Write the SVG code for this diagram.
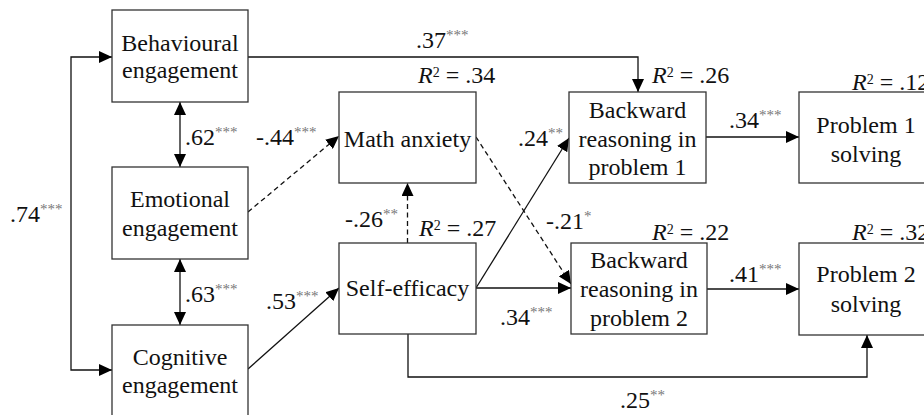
<svg xmlns="http://www.w3.org/2000/svg" width="924" height="415" viewBox="0 0 924 415">
<defs>
<marker id="ah" markerUnits="userSpaceOnUse" markerWidth="13" markerHeight="12" refX="13" refY="6" orient="auto-start-reverse" viewBox="0 0 13 12">
<path d="M0,0 L13,6 L0,12 z" fill="#000"/>
</marker>
<style>
.box{fill:#fff;stroke:#333;stroke-width:1.3}
text{font-family:'Liberation Serif','DejaVu Serif',serif;font-size:24px;fill:#111}
.c{text-anchor:middle}
.sig{font-size:15px;fill:#777}
.sup{font-size:14px}
.ln{fill:none;stroke:#111;stroke-width:1.3}
.dash{stroke-dasharray:5,3.5}
</style>
</defs>
<rect width="924" height="415" fill="#fff"/>

<g id="connectors">
<path class="ln" d="M112,57 H71 V370 H112" marker-start="url(#ah)" marker-end="url(#ah)"/>
<path class="ln" d="M180,102 V167" marker-start="url(#ah)" marker-end="url(#ah)"/>
<path class="ln" d="M180,259 V325" marker-start="url(#ah)" marker-end="url(#ah)"/>
<path class="ln" d="M248,57 H638 V92" marker-end="url(#ah)"/>
<path class="ln dash" d="M248,212 L339,136" marker-end="url(#ah)"/>
<path class="ln" d="M248,369 L339,288" marker-end="url(#ah)"/>
<path class="ln dash" d="M407.5,243 V183" marker-end="url(#ah)"/>
<path class="ln" d="M476,288 L569,138" marker-end="url(#ah)"/>
<path class="ln dash" d="M476,137 L571,284" marker-end="url(#ah)"/>
<path class="ln" d="M476,288 H571" marker-end="url(#ah)"/>
<path class="ln" d="M706,137 H799" marker-end="url(#ah)"/>
<path class="ln" d="M707,289 H799" marker-end="url(#ah)"/>
<path class="ln" d="M408,334 V377 H867 V335" marker-end="url(#ah)"/>
</g>

<g id="behavioural">
<rect class="box" x="112" y="10" width="136" height="92"/>
<text class="c" x="180" y="51">Behavioural</text>
<text class="c" x="180" y="78">engagement</text>
</g>
<g id="emotional">
<rect class="box" x="112" y="167" width="136" height="92"/>
<text class="c" x="180" y="207">Emotional</text>
<text class="c" x="180" y="236">engagement</text>
</g>
<g id="cognitive">
<rect class="box" x="112" y="325" width="136" height="92"/>
<text class="c" x="180" y="365">Cognitive</text>
<text class="c" x="180" y="393">engagement</text>
</g>
<g id="math-anxiety">
<rect class="box" x="339" y="92" width="137" height="91"/>
<text class="c" x="407.5" y="147">Math anxiety</text>
</g>
<g id="self-efficacy">
<rect class="box" x="339" y="243" width="137" height="91"/>
<text class="c" x="407.5" y="296">Self-efficacy</text>
</g>
<g id="backward1">
<rect class="box" x="569" y="92" width="137" height="91"/>
<text class="c" x="637.5" y="118">Backward</text>
<text class="c" x="637.5" y="147">reasoning in</text>
<text class="c" x="637.5" y="175">problem 1</text>
</g>
<g id="backward2">
<rect class="box" x="571" y="243" width="136" height="91"/>
<text class="c" x="639" y="268">Backward</text>
<text class="c" x="639" y="297">reasoning in</text>
<text class="c" x="639" y="326">problem 2</text>
</g>
<g id="problem1">
<rect class="box" x="799" y="92" width="134" height="91"/>
<text class="c" x="866" y="133">Problem 1</text>
<text class="c" x="866" y="162">solving</text>
</g>
<g id="problem2">
<rect class="box" x="799" y="243" width="134" height="92"/>
<text class="c" x="866" y="282">Problem 2</text>
<text class="c" x="866" y="312">solving</text>
</g>

<g id="labels">
<text x="10" y="222">.74<tspan class="sig" dy="-8">***</tspan></text>
<text x="185" y="145">.62<tspan class="sig" dy="-8">***</tspan></text>
<text x="185" y="302">.63<tspan class="sig" dy="-8">***</tspan></text>
<text x="256" y="145">-.44<tspan class="sig" dy="-8">***</tspan></text>
<text x="266" y="309">.53<tspan class="sig" dy="-8">***</tspan></text>
<text x="416" y="48">.37<tspan class="sig" dy="-8">***</tspan></text>
<text x="345" y="227">-.26<tspan class="sig" dy="-8">**</tspan></text>
<text x="518" y="146">.24<tspan class="sig" dy="-8">**</tspan></text>
<text x="546" y="229">-.21<tspan class="sig" dy="-8">*</tspan></text>
<text x="500" y="325">.34<tspan class="sig" dy="-8">***</tspan></text>
<text x="729" y="128">.34<tspan class="sig" dy="-8">***</tspan></text>
<text x="729" y="282">.41<tspan class="sig" dy="-8">***</tspan></text>
<text x="620" y="408">.25<tspan class="sig" dy="-8">**</tspan></text>
<text x="418" y="83"><tspan font-style="italic">R</tspan><tspan class="sup" dy="-6">2</tspan><tspan dy="6"> = .34</tspan></text>
<text x="419" y="236"><tspan font-style="italic">R</tspan><tspan class="sup" dy="-6">2</tspan><tspan dy="6"> = .27</tspan></text>
<text x="652" y="83"><tspan font-style="italic">R</tspan><tspan class="sup" dy="-6">2</tspan><tspan dy="6"> = .26</tspan></text>
<text x="652" y="240"><tspan font-style="italic">R</tspan><tspan class="sup" dy="-6">2</tspan><tspan dy="6"> = .22</tspan></text>
<text x="852" y="90"><tspan font-style="italic">R</tspan><tspan class="sup" dy="-6">2</tspan><tspan dy="6"> = .12</tspan></text>
<text x="852" y="240"><tspan font-style="italic">R</tspan><tspan class="sup" dy="-6">2</tspan><tspan dy="6"> = .32</tspan></text>
</g>
</svg>
